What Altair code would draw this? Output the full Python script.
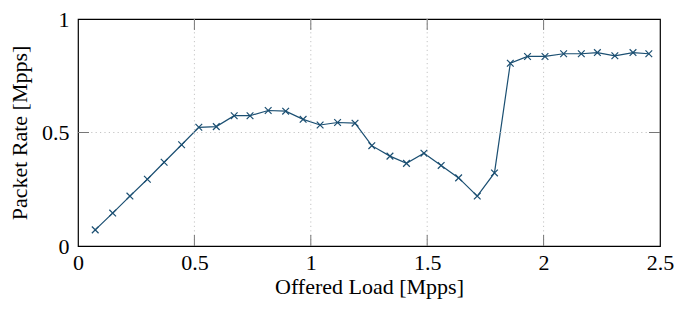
import altair as alt
import pandas as pd

offered_load = [0.074, 0.149, 0.223, 0.298, 0.370, 0.445, 0.519, 0.594, 0.671, 0.739,
                0.817, 0.892, 0.967, 1.040, 1.115, 1.190, 1.262, 1.340, 1.411, 1.486,
                1.560, 1.635, 1.715, 1.789, 1.857, 1.931, 2.006, 2.086, 2.162, 2.231,
                2.306, 2.384, 2.452]
packet_rate = [0.071, 0.145, 0.220, 0.294, 0.369, 0.446, 0.523, 0.526, 0.574, 0.574,
               0.597, 0.594, 0.558, 0.533, 0.544, 0.541, 0.442, 0.396, 0.364, 0.409,
               0.355, 0.300, 0.220, 0.322, 0.805, 0.835, 0.835, 0.847, 0.847, 0.852,
               0.838, 0.852, 0.847]

x_ticks = [0, 0.5, 1, 1.5, 2, 2.5]
y_ticks = [0, 0.5, 1]
x_inner = [0.5, 1, 1.5, 2]
y_inner = [0.5]

df = pd.DataFrame({"load": offered_load, "rate": packet_rate})
xt = pd.DataFrame({"load": x_inner})
yt = pd.DataFrame({"rate": y_inner})

W, H = 582, 227
C = "#1b4f72"
FONT = "Liberation Serif"
FS = 22
TL = 11
TICKC = "#777777"
GRIDC = "#c4c4c4"
DASH = [1.2, 3.2]

xs = alt.Scale(domain=[0, 2.5], nice=False, zero=False)
ys = alt.Scale(domain=[0, 1], nice=False, zero=False)

x_enc = alt.X("load:Q", scale=xs, axis=alt.Axis(
    title="Offered Load [Mpps]", values=x_ticks, format="~g", ticks=False,
    labelPadding=6, titlePadding=3, domain=False, labelFlush=False, grid=False))
y_enc = alt.Y("rate:Q", scale=ys, axis=alt.Axis(
    title="Packet Rate [Mpps]", values=y_ticks, format="~g", ticks=False,
    labelPadding=9, titlePadding=10, domain=False, labelFlush=False, grid=False))

base = alt.Chart(df)
line = base.mark_line(color=C, strokeWidth=1.2).encode(x=x_enc, y=y_enc)
pts = base.mark_point(shape="M-1,-1L1,1M-1,1L1,-1", size=45, color=C,
                      filled=False, strokeWidth=1.2, opacity=1).encode(
    x=alt.X("load:Q"), y=alt.Y("rate:Q"))

gx = alt.Chart(xt).mark_rule(color=GRIDC, strokeWidth=1, strokeDash=DASH).encode(
    x=alt.X("load:Q"), y=alt.value(0), y2=alt.value(H))
gy = alt.Chart(yt).mark_rule(color=GRIDC, strokeWidth=1, strokeDash=DASH).encode(
    y=alt.Y("rate:Q"), x=alt.value(0), x2=alt.value(W))

tb = alt.Chart(xt).mark_rule(color=TICKC, strokeWidth=1).encode(
    x=alt.X("load:Q"), y=alt.value(H - TL), y2=alt.value(H))
tt = alt.Chart(xt).mark_rule(color=TICKC, strokeWidth=1).encode(
    x=alt.X("load:Q"), y=alt.value(0), y2=alt.value(TL))
tl = alt.Chart(yt).mark_rule(color=TICKC, strokeWidth=1).encode(
    y=alt.Y("rate:Q"), x=alt.value(0), x2=alt.value(TL))
tr = alt.Chart(yt).mark_rule(color=TICKC, strokeWidth=1).encode(
    y=alt.Y("rate:Q"), x=alt.value(W - TL), x2=alt.value(W))

chart = alt.layer(line, gx, gy, tb, tt, tl, tr, pts).properties(
    width=W, height=H,
    background="white",
    autosize=alt.AutoSizeParams(type="none"),
    padding={"left": 70, "top": 11, "right": 14, "bottom": 60},
).configure_view(
    stroke="#000000", strokeWidth=1.2
).configure_axis(
    labelFont=FONT, titleFont=FONT, labelFontSize=FS, titleFontSize=FS,
    labelColor="#000000", titleColor="#000000", titleFontWeight="normal"
)

chart.save("out.html", embed_options={"renderer": "svg", "actions": False})
